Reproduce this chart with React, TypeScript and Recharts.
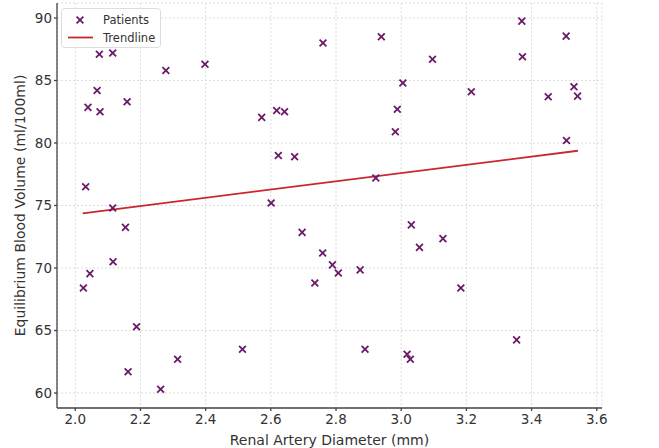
import React from "react";
import {
  ScatterChart, Scatter, XAxis, YAxis, CartesianGrid,
} from "recharts";

// renal artery diameter (mm) per patient
const DIAMETERS = [
  2.074, 2.115, 2.067, 2.039, 2.076, 2.159, 2.278, 2.398, 2.760, 2.572,
  2.618, 2.642, 2.623, 2.673, 2.032, 2.115, 2.601, 2.939, 3.096, 3.005,
  2.988, 2.982, 3.215, 3.370, 3.372, 3.506, 3.451, 3.530, 3.541, 3.507,
  2.922, 2.154, 2.116, 2.045, 2.025, 2.188, 2.162, 2.262, 2.314, 2.513,
  2.696, 2.759, 2.735, 2.789, 2.807, 2.874, 2.889, 3.018, 3.028, 3.031,
  3.056, 3.128, 3.183, 3.354,
];

// equilibrium blood volume (ml/100ml), same order
const VOLUMES = [
  87.1, 87.2, 84.2, 82.85, 82.5, 83.3, 85.8, 86.3, 88.0, 82.05,
  82.6, 82.5, 79.0, 78.9, 76.5, 74.8, 75.2, 88.5, 86.7, 84.8,
  82.7, 80.9, 84.1, 89.75, 86.9, 88.55, 83.7, 84.5, 83.75, 80.2,
  77.2, 73.25, 70.5, 69.55, 68.4, 65.3, 61.7, 60.3, 62.7, 63.5,
  72.85, 71.2, 68.8, 70.25, 69.6, 69.85, 63.5, 63.1, 62.7, 73.45,
  71.65, 72.35, 68.4, 64.25,
];

// trendline end points
const TREND_X = [2.023, 3.542];
const TREND_Y = [74.37, 79.38];

const X_TICKS = [2.0, 2.2, 2.4, 2.6, 2.8, 3.0, 3.2, 3.4, 3.6];
const Y_TICKS = [60, 65, 70, 75, 80, 85, 90];

const PURPLE = "#6a1a6a";
const RED = "#c8282d";
const FONT = "'DejaVu Sans', sans-serif";

const patients = DIAMETERS.map((x, i) => ({ x, y: VOLUMES[i] }));
const trend = TREND_X.map((x, i) => ({ x, y: TREND_Y[i] }));

function XMark(props: any) {
  const { cx, cy } = props;
  const s = 3.4;
  return (
    <g stroke={PURPLE} strokeWidth={1.8}>
      <line x1={cx - s} y1={cy - s} x2={cx + s} y2={cy + s} />
      <line x1={cx - s} y1={cy + s} x2={cx + s} y2={cy - s} />
    </g>
  );
}

// legend box drawn over the top-left corner of the plot, like matplotlib's "best"
function LegendBox() {
  return (
    <svg
      width={100}
      height={40}
      style={{ position: "absolute", left: 61, top: 8, display: "block" }}
    >
      <rect x={0.5} y={0.5} width={99} height={39} rx={3} fill="#fff" fillOpacity={0.85} stroke="#ddd" />
      <g transform="translate(19,12)" stroke={PURPLE} strokeWidth={1.8}>
        <line x1={-3.4} y1={-3.4} x2={3.4} y2={3.4} />
        <line x1={-3.4} y1={3.4} x2={3.4} y2={-3.4} />
      </g>
      <line x1={7} y1={29.5} x2={32} y2={29.5} stroke={RED} strokeWidth={1.8} />
      <text x={42} y={16} fontSize={11.5} fill="#333" fontFamily={FONT}>Patients</text>
      <text x={42} y={34} fontSize={11.5} fill="#333" fontFamily={FONT}>Trendline</text>
    </svg>
  );
}

export default function App() {
  return (
    <div style={{ position: "absolute", left: 0, top: 0, background: "#fff" }}>
      <ScatterChart
        width={659}
        height={448}
        margin={{ top: 3, right: 57, bottom: 0, left: 0 }}
      >
        <CartesianGrid stroke="#dcdcdc" strokeDasharray="2 2" />
        <XAxis
          type="number"
          dataKey="x"
          domain={[1.944, 3.616]}
          ticks={X_TICKS}
          allowDataOverflow
          tickFormatter={(v: number) => v.toFixed(1)}
          height={40}
          tickSize={3}
          tickMargin={3}
          stroke="#444"
          strokeWidth={1.3}
          tick={{ fill: "#333", fontSize: 13.5, fontFamily: FONT }}
          label={{
            value: "Renal Artery Diameter (mm)",
            position: "insideBottom",
            offset: 3,
            fill: "#333",
            fontSize: 14,
            fontFamily: FONT,
          }}
        />
        <YAxis
          type="number"
          dataKey="y"
          domain={[58.8, 91.2]}
          ticks={Y_TICKS}
          allowDataOverflow
          width={57}
          tickSize={3}
          tickMargin={2}
          stroke="#444"
          strokeWidth={1.3}
          tick={{ fill: "#333", fontSize: 13.5, fontFamily: FONT }}
          label={{
            content: ({ viewBox }: any) => {
              const cy = viewBox.y + viewBox.height / 2;
              return (
                <text
                  x={20}
                  y={cy}
                  transform={`rotate(-90, 20, ${cy})`}
                  textAnchor="middle"
                  dominantBaseline="central"
                  fill="#333"
                  fontSize={14}
                  fontFamily={FONT}
                >
                  Equilibrium Blood Volume (ml/100ml)
                </text>
              );
            },
          }}
        />
        <Scatter
          name="Trendline"
          data={trend}
          line={{ stroke: RED, strokeWidth: 1.8 }}
          shape={() => null}
          isAnimationActive={false}
        />
        <Scatter
          name="Patients"
          data={patients}
          shape={XMark}
          isAnimationActive={false}
        />
      </ScatterChart>
      <LegendBox />
    </div>
  );
}
